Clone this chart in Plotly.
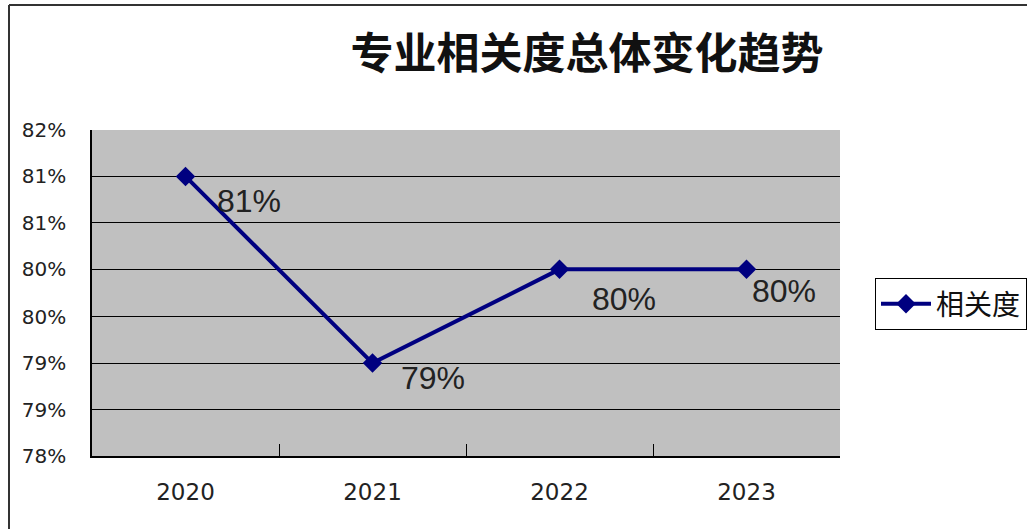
import plotly.graph_objects as go

years = ["2020", "2021", "2022", "2023"]
relevance = [0.8143, 0.7914, 0.8029, 0.8029]
value_labels = ["81%", "79%", "80%", "80%"]
series_name = "相关度"
title_text = "专业相关度总体变化趋势"
y_tick_values = [0.78, 0.7857, 0.7914, 0.7971, 0.8029, 0.8086, 0.8143, 0.82]
y_tick_labels = ["78%", "79%", "79%", "80%", "80%", "81%", "81%", "82%"]

# label offsets in pixels (right, down) relative to each point
label_shifts = [(63, 25), (60, 15), (64, 30), (37, 22)]

NAVY = "#000080"
W, H = 1027, 529
L, R, T, B = 92, 187, 130, 73
pw, ph = W - L - R, H - T - B

fig = go.Figure()
fig.add_trace(go.Scatter(
    x=years, y=relevance, name=series_name, mode="lines+markers",
    line=dict(color=NAVY, width=4),
    marker=dict(symbol="diamond", size=15, color=NAVY),
))

for i, (yv, txt, (dx, dy)) in enumerate(zip(relevance, value_labels, label_shifts)):
    fig.add_annotation(x=i, y=yv, xref="x", yref="y", text=txt,
                       showarrow=False, xshift=dx, yshift=-dy,
                       font=dict(family="Liberation Sans", size=32, color="#222222"))


def px(x):
    return (x - L) / pw


def py(y):
    return (H - B - y) / ph


# outer chart border (left and top)
fig.add_shape(type="line", xref="paper", yref="paper",
              x0=px(9), x1=px(9), y0=py(529), y1=py(5),
              line=dict(color="#333333", width=2))
fig.add_shape(type="line", xref="paper", yref="paper",
              x0=px(9), x1=px(1027), y0=py(5), y1=py(5),
              line=dict(color="#333333", width=2))

fig.update_layout(
    width=W, height=H,
    margin=dict(l=L, r=R, t=T, b=B, autoexpand=False),
    paper_bgcolor="white", plot_bgcolor="#C0C0C0",
    title=dict(text=f"<b>{title_text}</b>", x=587 / W, xanchor="center",
               y=1 - 54 / H, yanchor="middle",
               font=dict(family="Noto Sans CJK SC", size=43, color="#111111")),
    showlegend=True,
    legend=dict(x=px(875), y=py(278), xanchor="left", yanchor="top",
                bordercolor="black", borderwidth=1, bgcolor="white",
                font=dict(family="Noto Sans CJK SC", size=28, color="#111111"),
                itemwidth=50, tracegroupgap=0),
    xaxis=dict(type="category", range=[-0.5, 3.5], tickson="boundaries",
               ticks="inside", ticklen=12, tickcolor="black",
               showline=True, linecolor="black", linewidth=1.5,
               showgrid=False, zeroline=False,
               tickfont=dict(family="DejaVu Sans", size=23, color="#222222"),
               ticklabelstandoff=15),
    yaxis=dict(range=[0.78, 0.82], tickmode="array", tickvals=y_tick_values,
               ticktext=y_tick_labels, ticks="inside", ticklen=12, tickcolor="black",
               showline=True, linecolor="black", linewidth=1.5,
               showgrid=True, gridcolor="black", gridwidth=1, zeroline=False,
               tickfont=dict(family="DejaVu Sans", size=20, color="#222222"),
               ticklabelstandoff=20),
)

fig.write_html("out.html", config={"displayModeBar": False},
               post_script="document.body.style.margin='0';")
